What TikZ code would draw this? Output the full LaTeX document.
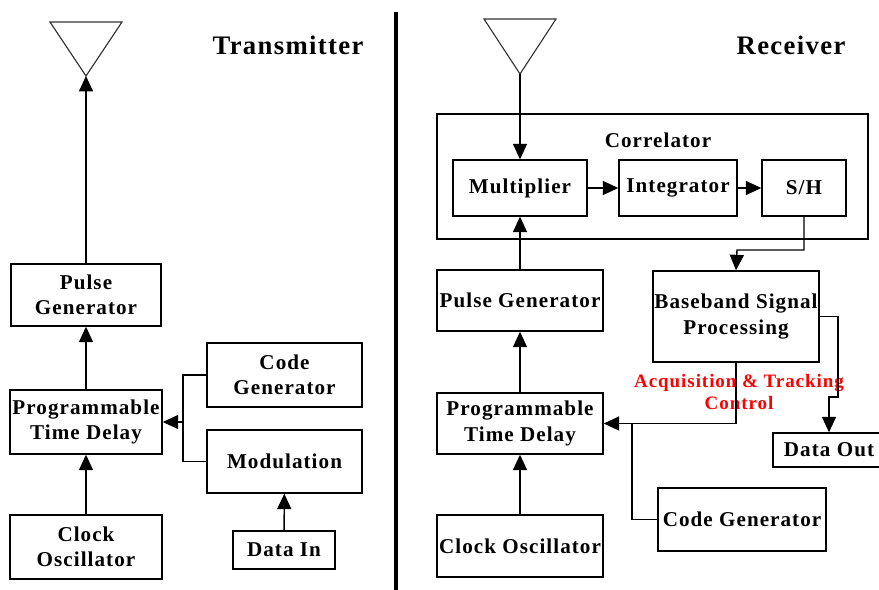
\documentclass[tikz,border=0pt]{standalone}
\usepackage{fontspec}
\setmainfont{Liberation Serif}[LetterSpace=5.0]
\usepackage{tikz}
\usetikzlibrary{arrows.meta, positioning, calc}

\begin{document}
\begin{tikzpicture}[x=0.025cm, y=-0.025cm,
        block/.style={draw, line width=1pt, inner sep=0pt, align=center,
            font=\fontsize{15}{18}\selectfont\bfseries},
        link/.style={line width=1pt},
        arr/.style={line width=1pt, -{Triangle[length=11pt, width=10pt]}},
        aerial/.style={line width=0.8pt, draw=black!80},
        title/.style={font=\fontsize{19}{22}\selectfont\bfseries}]
        \useasboundingbox (0,0) rectangle (879,590);
        \clip (0,0) rectangle (879,590);

        % divider between the two halves
        \draw[line width=2.2pt] (396,12) -- (396,590);

        % ---------------- transmitter ----------------
        \node[title] (txTitle) at (288,45) {Transmitter};
        \coordinate (antT) at (86,76);
        \draw[aerial] (50,22) -- (122,22) -- (antT) -- cycle;

        \node[block, minimum width=3.75cm, minimum height=1.55cm] (pulseT) at (86,295) {Pulse\\Generator};
        \node[block, minimum width=3.8cm, minimum height=1.6cm] (delayT) at (86,422) {Programmable\\Time Delay};
        \node[block, minimum width=3.8cm, minimum height=1.6cm] (clockT) at (86,547) {Clock\\Oscillator};
        \node[block, minimum width=3.875cm, minimum height=1.6cm] (codeT) at (284.5,375) {Code\\Generator};
        \node[block, minimum width=3.875cm, minimum height=1.575cm] (modT) at (284.5,461.5) {Modulation};
        \node[block, minimum width=2.55cm, minimum height=0.95cm] (dataIn) at (284,550) {Data In};
        \coordinate (jT) at (183,422);

        \draw[arr] (pulseT) -- (antT);
        \draw[arr] (delayT) -- (pulseT);
        \draw[arr] (clockT) -- (delayT);
        \draw[link] (codeT.west) -| (jT);
        \draw[link] (modT.west) -| (jT);
        \draw[arr] (jT) -- (delayT.east);
        \draw[arr] (dataIn) -- (modT);

        % ---------------- receiver ----------------
        \node[title] (rxTitle) at (791,45) {Receiver};
        \coordinate (antR) at (520,74);
        \draw[aerial] (484,19) -- (556,19) -- (antR) -- cycle;

        \node[draw, line width=1pt, minimum width=10.775cm, minimum height=3.125cm] (corr) at (652.5,176.5) {};
        \node[font=\fontsize{15}{18}\selectfont\bfseries] (corrLabel) at (658,140) {Correlator};
        \node[block, minimum width=3.35cm, minimum height=1.4cm] (mult) at (520,188) {Multiplier};
        \node[block, minimum width=2.95cm, minimum height=1.4cm] (integ) at (678,188) {Integrator};
        \node[block, minimum width=2.1cm, minimum height=1.4cm] (sh) at (804,188) {S/H};

        \node[block, minimum width=4.15cm, minimum height=2.275cm] (bsp) at (736,316.5) {Baseband Signal\\Processing};
        \node[block, minimum width=4.15cm, minimum height=1.525cm] (pulseR) at (520,300.5) {Pulse Generator};
        \node[block, minimum width=4.15cm, minimum height=1.525cm] (delayR) at (520,423.5) {Programmable\\Time Delay};
        \node[block, minimum width=4.15cm, minimum height=1.55cm] (clockR) at (520,546) {Clock Oscillator};
        \node[block, minimum width=4.2cm, minimum height=1.575cm] (codeR) at (742,519.5) {Code Generator};
        \node[block, minimum width=2.8cm, minimum height=0.85cm] (dataOut) at (829,450) {Data Out};
        \node[align=center, text=red, font=\fontsize{13.5}{16}\selectfont\bfseries] (acq) at (739,392) {Acquisition \& Tracking\\Control};

        \coordinate (shTurn) at (737,250);
        \coordinate (doTurn) at (838,397);
        \coordinate (jR) at (632,423.5);

        \draw[arr] (antR) -- (mult.north);
        \draw[arr] (pulseR) -- (mult);
        \draw[arr] (delayR) -- (pulseR);
        \draw[arr] (clockR) -- (delayR);
        \draw[arr] (mult) -- (integ);
        \draw[arr] (integ) -- (sh);
        \draw[arr] (sh.south) |- (shTurn) -- (bsp.north);
        \draw[arr] (bsp.south) |- (delayR.east);
        \draw[link] (codeR.west) -| (jR);
        \draw[arr] (bsp.east) -| (doTurn) -| (dataOut.north);
    \end{tikzpicture}
\end{document}
